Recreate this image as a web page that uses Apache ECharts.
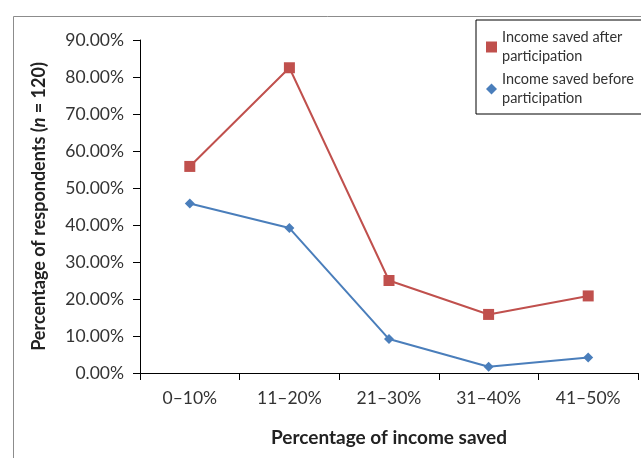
<!DOCTYPE html>
<html>
<head>
<meta charset="utf-8">
<script src="https://cdn.jsdelivr.net/npm/echarts@6/dist/echarts.min.js"></script>
<style>
html,body{margin:0;padding:0;background:#fff;}
#chart{width:641px;height:458px;}
</style>
</head>
<body>
<div id="chart"></div>
<script>
const categories = ['0–10%', '11–20%', '21–30%', '31–40%', '41–50%'];
const afterValues = [55.83, 82.5, 25.0, 15.83, 20.83];
const beforeValues = [45.83, 39.17, 9.17, 1.67, 4.17];
const afterName = 'Income saved after\nparticipation';
const beforeName = 'Income saved before\nparticipation';

const FONT = 'Lato, "Open Sans", sans-serif';
const chart = echarts.init(document.getElementById('chart'));
chart.setOption({
  animation: false,
  backgroundColor: '#fff',
  graphic: [{
    type: 'rect', left: 11, top: 14, silent: true, z: -1,
    shape: {width: 700, height: 500},
    style: {fill: 'none', stroke: '#8c8c8c', lineWidth: 1}
  }],
  grid: {left: 140, right: 3, top: 40, bottom: 85},
  legend: {
    orient: 'vertical', left: 476, top: 20,
    padding: [8, 30, 6, 10],
    borderColor: '#000', borderWidth: 1,
    itemWidth: 11, itemHeight: 11, itemGap: 4,
    textStyle: {fontFamily: FONT, fontSize: 14.5, color: '#333', lineHeight: 19},
    data: [{name: afterName, icon: 'rect'}, {name: beforeName, icon: 'diamond'}]
  },
  xAxis: {
    type: 'category', data: categories, boundaryGap: true,
    name: 'Percentage of income saved', nameLocation: 'middle', nameGap: 55,
    nameTextStyle: {fontFamily: FONT, fontSize: 19, fontWeight: 'bold', color: '#222'},
    axisLine: {lineStyle: {color: '#000', width: 1}},
    axisTick: {show: true, alignWithLabel: false, length: 7, lineStyle: {color: '#000'}},
    axisLabel: {fontFamily: FONT, fontSize: 17.5, color: '#333', margin: 16}
  },
  yAxis: {
    type: 'value', min: 0, max: 90, interval: 10,
    name: '{a|Percentage of respondents (}{b|n}{a| = 120)}', nameLocation: 'middle', nameGap: 92,
    nameRotate: 90,
    nameTextStyle: {
      rich: {
        a: {fontFamily: FONT, fontSize: 18, fontWeight: 'bold', color: '#222'},
        b: {fontFamily: FONT, fontSize: 18, fontWeight: 'bold', fontStyle: 'italic', color: '#222'}
      }
    },
    splitLine: {show: false},
    axisLine: {show: true, lineStyle: {color: '#000', width: 1}},
    axisTick: {show: true, inside: false, length: 7, lineStyle: {color: '#000'}},
    axisLabel: {fontFamily: FONT, fontSize: 17.5, color: '#333', margin: 16,
      formatter: v => v.toFixed(2) + '%'}
  },
  series: [
    {
      name: afterName, type: 'line', data: afterValues,
      symbol: 'rect', symbolSize: 11,
      lineStyle: {color: '#C0504D', width: 2},
      itemStyle: {color: '#C0504D'}
    },
    {
      name: beforeName, type: 'line', data: beforeValues,
      symbol: 'diamond', symbolSize: 10,
      lineStyle: {color: '#4A7EBB', width: 2},
      itemStyle: {color: '#4A7EBB'}
    }
  ]
});
</script>
</body>
</html>
